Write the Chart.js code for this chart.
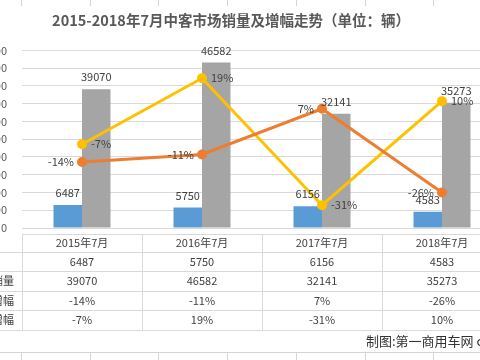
<!DOCTYPE html>
<html>
<head>
<meta charset="utf-8">
<script src="https://cdn.jsdelivr.net/npm/chart.js@4.4.1/dist/chart.umd.min.js"></script>
<style>
  html, body { margin: 0; padding: 0; background: #fff; overflow: hidden; }
  body { width: 480px; height: 360px; position: relative; }
  #wrap { position: absolute; left: -40px; top: 0; width: 554px; height: 352px; }
  #sheetLine { position: absolute; left: 0; top: 352px; width: 480px; height: 1px; background: #d4d4d4; }
  .stub { position: absolute; width: 1px; background: #d4d4d4; }
  #credit { position: absolute; left: 366px; top: 331px; font: 13px 'Noto Sans CJK SC', sans-serif; color: #333; white-space: nowrap; }
</style>
</head>
<body>
<div id="wrap"><canvas id="chart" width="554" height="352"></canvas></div>
<div id="sheetLine"></div>
<div id="credit">制图:第一商用车网 cvworld.cn</div>
<script>
const months = ['2015年7月', '2016年7月', '2017年7月', '2018年7月'];
const zhongkeSales = [6487, 5750, 6156, 4583];
const busSales = [39070, 46582, 32141, 35273];
const zhongkeGrowth = [-14, -11, 7, -26];
const busGrowth = [-7, 19, -31, 10];
const seriesNames = ['中客', '客车销量', '中客增幅', '客车增幅'];

const FONT = "'Noto Sans CJK SC', sans-serif";

// excel sheet grid peeking out above and below the chart
const sheetCols = [21, 90, 158, 227, 296, 365, 433];
sheetCols.forEach(function(x) {
    [[0, 6], [352, 8]].forEach(function(p) {
        const d = document.createElement('div');
        d.className = 'stub';
        d.style.left = x + 'px';
        d.style.top = p[0] + 'px';
        d.style.height = p[1] + 'px';
        document.body.appendChild(d);
    });
});

function pct(v) { return v + '%'; }

// value labels (no datalabels plugin available)
const valueLabels = {
    id: 'valueLabels',
    afterDatasetsDraw(chart) {
        const ctx = chart.ctx;
        ctx.save();
        ctx.font = '11px ' + FONT;
        ctx.fillStyle = '#404040';
        ctx.textBaseline = 'middle';
        chart.data.datasets.forEach(function(ds, i) {
            const meta = chart.getDatasetMeta(i);
            meta.data.forEach(function(el, j) {
                const v = ds.data[j];
                if (ds.type === 'bar') {
                    ctx.textAlign = 'center';
                    ctx.fillText(String(v), el.x, el.y - 12);
                } else if (ds.labelSide === 'left') {
                    ctx.textAlign = 'right';
                    ctx.fillText(pct(v), el.x - 8, el.y);
                } else {
                    ctx.textAlign = 'left';
                    ctx.fillText(pct(v), el.x + 9, el.y);
                }
            });
        });
        ctx.restore();
    }
};

// excel style data table under the plot
const dataTable = {
    id: 'dataTable',
    afterDraw(chart) {
        const ctx = chart.ctx;
        const xs = chart.scales.x;
        const area = chart.chartArea;
        const half = (xs.getPixelForValue(1) - xs.getPixelForValue(0)) / 2;
        const rows = [months, zhongkeSales, busSales, zhongkeGrowth.map(pct), busGrowth.map(pct)];
        const rowH = [17.7, 19, 20, 19.3, 19.3];
        const top = area.bottom + 6.3;

        ctx.save();
        ctx.strokeStyle = '#d9d9d9';
        ctx.lineWidth = 1;

        let y = top;
        const lineYs = [top];
        rowH.forEach(function(h) { y += h; lineYs.push(y); });

        lineYs.forEach(function(ly, k) {
            ctx.beginPath();
            ctx.moveTo(k === 0 ? area.left : 0, Math.round(ly) + 0.5);
            ctx.lineTo(chart.width, Math.round(ly) + 0.5);
            ctx.stroke();
        });
        for (let i = 0; i <= months.length; i++) {
            const vx = Math.round(xs.getPixelForValue(0) - half + i * half * 2) + 0.5;
            ctx.beginPath();
            ctx.moveTo(vx, Math.round(top));
            ctx.lineTo(vx, Math.round(y) + 1);
            ctx.stroke();
        }

        ctx.font = '11px ' + FONT;
        ctx.fillStyle = '#404040';
        ctx.textBaseline = 'middle';
        rows.forEach(function(row, r) {
            const cy = (lineYs[r] + lineYs[r + 1]) / 2;
            ctx.textAlign = 'center';
            row.forEach(function(v, i) {
                ctx.fillText(String(v), xs.getPixelForValue(i), cy);
            });
            if (r > 0) {
                ctx.textAlign = 'left';
                ctx.fillText(seriesNames[r - 1], 10, cy);
            }
        });
        ctx.restore();
    }
};

const ctx = document.getElementById('chart').getContext('2d');
new Chart(ctx, {
    data: {
        labels: months,
        datasets: [
            {
                type: 'line',
                label: seriesNames[2],
                data: zhongkeGrowth,
                yAxisID: 'y1',
                borderColor: '#ED7D31',
                backgroundColor: '#ED7D31',
                pointBackgroundColor: '#ED7D31',
                borderWidth: 3,
                pointRadius: 3.5,
                tension: 0,
                order: 0,
                labelSide: 'left'
            },
            {
                type: 'line',
                label: seriesNames[3],
                data: busGrowth,
                yAxisID: 'y1',
                borderColor: '#FFC000',
                backgroundColor: '#FFC000',
                pointBackgroundColor: '#FFC000',
                borderWidth: 3,
                pointRadius: 3.5,
                tension: 0,
                order: 0,
                labelSide: 'right'
            },
            {
                type: 'bar',
                label: seriesNames[0],
                data: zhongkeSales,
                backgroundColor: '#5B9BD5',
                barPercentage: 1,
                categoryPercentage: 0.475,
                order: 1
            },
            {
                type: 'bar',
                label: seriesNames[1],
                data: busSales,
                backgroundColor: '#A5A5A5',
                barPercentage: 1,
                categoryPercentage: 0.475,
                order: 1
            }
        ]
    },
    options: {
        responsive: false,
        animation: false,
        layout: { padding: { left: 0, right: 12, top: 0, bottom: 124 } },
        scales: {
            x: { display: false },
            y: {
                min: 0,
                max: 50000,
                ticks: { stepSize: 5000, color: '#595959', font: { size: 11, family: FONT }, padding: 15 },
                grid: { color: '#d9d9d9', drawTicks: false },
                border: { display: false },
                afterFit: function(s) { s.width = 62; }
            },
            y1: { display: false, min: -40, max: 30, position: 'right' }
        },
        plugins: {
            legend: { display: false },
            tooltip: { enabled: false },
            title: {
                display: true,
                text: '2015-2018年7月中客市场销量及增幅走势（单位：辆）',
                color: '#595959',
                font: { size: 14.5, weight: 'bold', family: FONT },
                padding: { top: 12, bottom: 21 }
            }
        }
    },
    plugins: [valueLabels, dataTable]
});
</script>
</body>
</html>
